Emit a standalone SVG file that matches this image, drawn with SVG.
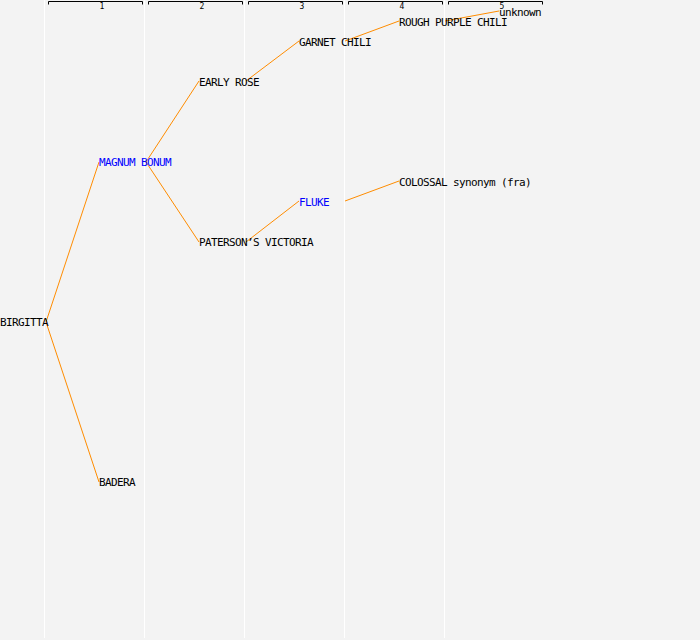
<svg xmlns="http://www.w3.org/2000/svg" width="700" height="640" viewBox="0 0 700 640">
<style>
.col{fill:#ffffff}
.br{fill:none;stroke:#000;stroke-width:1}
.num{font-family:"DejaVu Sans Mono",monospace;font-size:8px;text-anchor:middle;fill:#000}
.lbl{font-family:"DejaVu Sans Mono","Liberation Mono",monospace;font-size:11px;letter-spacing:-0.62px;fill:#000}
.blue{fill:#0000ff}
.edge{fill:none;stroke:#ff8c00;stroke-width:1}
</style>
<rect width="700" height="640" fill="#f3f3f3"/>
<g id="columns">
<rect class="col" x="44" y="0" width="1" height="638"/>
<rect class="col" x="144" y="0" width="1" height="638"/>
<rect class="col" x="244" y="0" width="1" height="638"/>
<rect class="col" x="344" y="0" width="1" height="638"/>
<rect class="col" x="444" y="0" width="1" height="638"/>
</g>
<g id="header">
<path class="br" d="M48.5,4.5V1.5H142.5V4.5"/>
<path class="br" d="M148.5,4.5V1.5H242.5V4.5"/>
<path class="br" d="M248.5,4.5V1.5H342.5V4.5"/>
<path class="br" d="M348.5,4.5V1.5H442.5V4.5"/>
<path class="br" d="M448.5,4.5V1.5H542.5V4.5"/>
<text class="num" x="102" y="9">1</text>
<text class="num" x="202" y="9">2</text>
<text class="num" x="302" y="9">3</text>
<text class="num" x="402" y="9">4</text>
<text class="num" x="502" y="9">5</text>
</g>
<g id="connectors">
<line class="edge" x1="46" y1="322" x2="99" y2="162"/>
<line class="edge" x1="46" y1="322" x2="99" y2="482"/>
<line class="edge" x1="146" y1="162" x2="199" y2="81"/>
<line class="edge" x1="146" y1="162" x2="199" y2="242"/>
<line class="edge" x1="246" y1="81" x2="299" y2="41"/>
<line class="edge" x1="246" y1="242" x2="299" y2="201"/>
<line class="edge" x1="345" y1="41" x2="399" y2="21"/>
<line class="edge" x1="345" y1="201" x2="399" y2="181"/>
<line class="edge" x1="445" y1="21" x2="499" y2="11"/>
</g>
<g id="n-birgitta"><text class="lbl" x="0" y="326">BIRGITTA</text></g>
<g id="n-magnum-bonum"><text class="lbl blue" x="99" y="166">MAGNUM BONUM</text></g>
<g id="n-badera"><text class="lbl" x="99" y="486">BADERA</text></g>
<g id="n-early-rose"><text class="lbl" x="199" y="86">EARLY ROSE</text></g>
<g id="n-patersons-victoria"><text class="lbl" x="199" y="246">PATERSON’S VICTORIA</text></g>
<g id="n-garnet-chili"><text class="lbl" x="299" y="46">GARNET CHILI</text></g>
<g id="n-fluke"><text class="lbl blue" x="299" y="206">FLUKE</text></g>
<g id="n-rough-purple-chili"><text class="lbl" x="399" y="26">ROUGH PURPLE CHILI</text></g>
<g id="n-colossal"><text class="lbl" x="399" y="186">COLOSSAL synonym (fra)</text></g>
<g id="n-unknown"><text class="lbl" x="499" y="16">unknown</text></g>
</svg>
